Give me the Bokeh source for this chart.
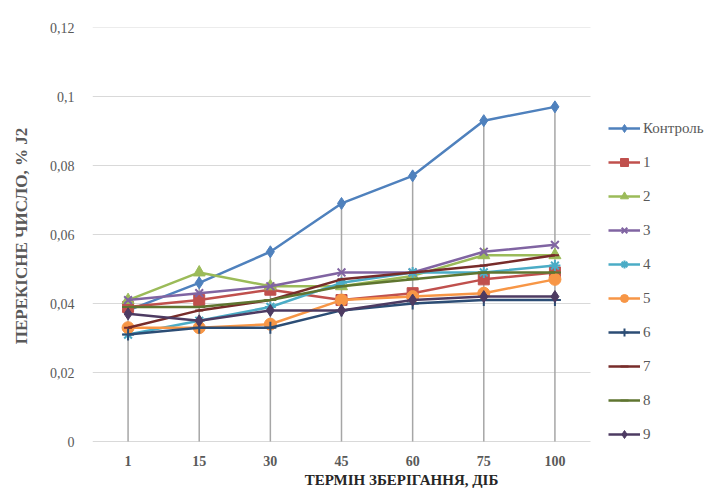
from bokeh.plotting import figure
from bokeh.models import (Range1d, Legend, LegendItem, FixedTicker,
                          CustomJSTickFormatter, ColumnDataSource)
from bokeh.embed import file_html
from bokeh.resources import INLINE

days = ["1", "15", "30", "45", "60", "75", "100"]

control = [0.038, 0.046, 0.055, 0.069, 0.077, 0.093, 0.097]
s1 = [0.039, 0.041, 0.044, 0.041, 0.043, 0.047, 0.049]
s2 = [0.041, 0.049, 0.045, 0.045, 0.048, 0.054, 0.054]
s3 = [0.041, 0.043, 0.045, 0.049, 0.049, 0.055, 0.057]
s4 = [0.031, 0.035, 0.039, 0.046, 0.049, 0.049, 0.051]
s5 = [0.033, 0.033, 0.034, 0.041, 0.042, 0.043, 0.047]
s6 = [0.031, 0.033, 0.033, 0.038, 0.040, 0.041, 0.041]
s7 = [0.033, 0.038, 0.041, 0.047, 0.049, 0.051, 0.054]
s8 = [0.039, 0.039, 0.041, 0.045, 0.047, 0.049, 0.049]
s9 = [0.037, 0.035, 0.038, 0.038, 0.041, 0.042, 0.042]

names = ["Контроль", "1", "2", "3", "4", "5", "6", "7", "8", "9"]
series = [control, s1, s2, s3, s4, s5, s6, s7, s8, s9]
colors = ["#4F81BD", "#C0504D", "#9BBB59", "#8064A2", "#4BACC6",
          "#F79646", "#2C4D75", "#772C2A", "#5F7530", "#4D3B62"]
markers = ["diamond", "square", "triangle", "x", "asterisk",
           "circle", "cross", "dash", "dash", "diamond"]
msizes = [12, 11, 12, 11, 11, 12, 12, 8, 12, 12]

yticks = [0, 0.02, 0.04, 0.06, 0.08, 0.1, 0.12]

xs = list(range(len(days)))

W, H = 715, 490
BL, BR, BT, BB = 92, 5, 27, 44
frame_w = W - BL - BR
frame_h = H - BT - BB
plot_w = 498   # width of the category area
plot_h = 416   # height of 0..0.12
x_start = -0.5
x_end = x_start + len(days) * frame_w / plot_w
y_end = 0.12
y_start = y_end - 0.12 * frame_h / plot_h

p = figure(width=W, height=H, x_range=Range1d(x_start, x_end),
           y_range=Range1d(y_start, y_end), output_backend="svg",
           toolbar_location=None, min_border_left=BL, min_border_right=BR,
           min_border_top=BT, min_border_bottom=BB)
p.outline_line_color = None
p.xgrid.grid_line_color = None
p.ygrid.grid_line_color = None

# horizontal gridlines limited to the category area
p.segment(x0=[x_start] * len(yticks), y0=yticks,
          x1=[len(days) - 0.5] * len(yticks), y1=yticks,
          line_color="#d9d9d9", line_width=1)

p.yaxis.ticker = FixedTicker(ticks=yticks)
p.yaxis.formatter = CustomJSTickFormatter(code="""
if (Math.abs(tick) < 1e-9) return '0';
var s = (Math.round(tick*100)/100).toString();
return s.replace('.', ',');
""")
p.yaxis.axis_line_color = None
p.yaxis.major_tick_line_color = None
p.yaxis.minor_tick_line_color = None
p.yaxis.major_label_text_font = "Liberation Serif"
p.yaxis.major_label_text_font_size = "14px"
p.yaxis.major_label_text_color = "#595959"
p.yaxis.major_label_standoff = 12
p.yaxis.axis_label = "ПЕРЕКІСНЕ ЧИСЛО, % J2"
p.yaxis.axis_label_text_font = "Liberation Serif"
p.yaxis.axis_label_text_font_style = "bold"
p.yaxis.axis_label_text_font_size = "17px"
p.yaxis.axis_label_text_color = "#595959"
p.yaxis.axis_label_standoff = 16

p.xaxis.ticker = FixedTicker(ticks=xs)
p.xaxis.major_label_overrides = {i: d for i, d in zip(xs, days)}
p.xaxis.axis_line_color = None
p.xaxis.major_tick_line_color = None
p.xaxis.minor_tick_line_color = None
p.xaxis.major_label_text_font = "Liberation Serif"
p.xaxis.major_label_text_font_style = "bold"
p.xaxis.major_label_text_font_size = "14px"
p.xaxis.major_label_text_color = "#595959"
p.xaxis.major_label_standoff = 5
p.xaxis.axis_label = "ТЕРМІН ЗБЕРІГАННЯ, ДІБ"
p.xaxis.axis_label_text_font = "Liberation Serif"
p.xaxis.axis_label_text_font_style = "bold"
p.xaxis.axis_label_text_font_size = "15px"
p.xaxis.axis_label_text_color = "#262626"
p.xaxis.axis_label_standoff = 3

# drop lines from the highest point of each category
tops = [max(vals) for vals in zip(*series)]
p.segment(x0=xs, y0=[0] * len(xs), x1=xs, y1=tops,
          line_color="#a6a6a6", line_width=1.5)

items = []
for name, vals, c, m, ms in zip(names, series, colors, markers, msizes):
    src = ColumnDataSource(dict(x=xs, y=vals))
    ln = p.line("x", "y", source=src, line_color=c, line_width=2.5)
    sc = p.scatter("x", "y", source=src, marker=m, size=ms, fill_color=c,
                   line_color=c, line_width=2 if m in ("x", "asterisk", "cross", "dash") else 1)
    items.append(LegendItem(label=name, renderers=[ln, sc]))

legend = Legend(items=items, location=(516, 0), orientation="vertical",
                label_text_font="Liberation Serif", label_text_font_size="15px",
                label_text_color="#595959", glyph_width=32, glyph_height=20,
                label_height=20, spacing=14, padding=0, margin=0,
                label_standoff=3, border_line_color=None,
                background_fill_alpha=0)
p.add_layout(legend, "center")

open("out.html", "w").write(file_html(p, INLINE))
